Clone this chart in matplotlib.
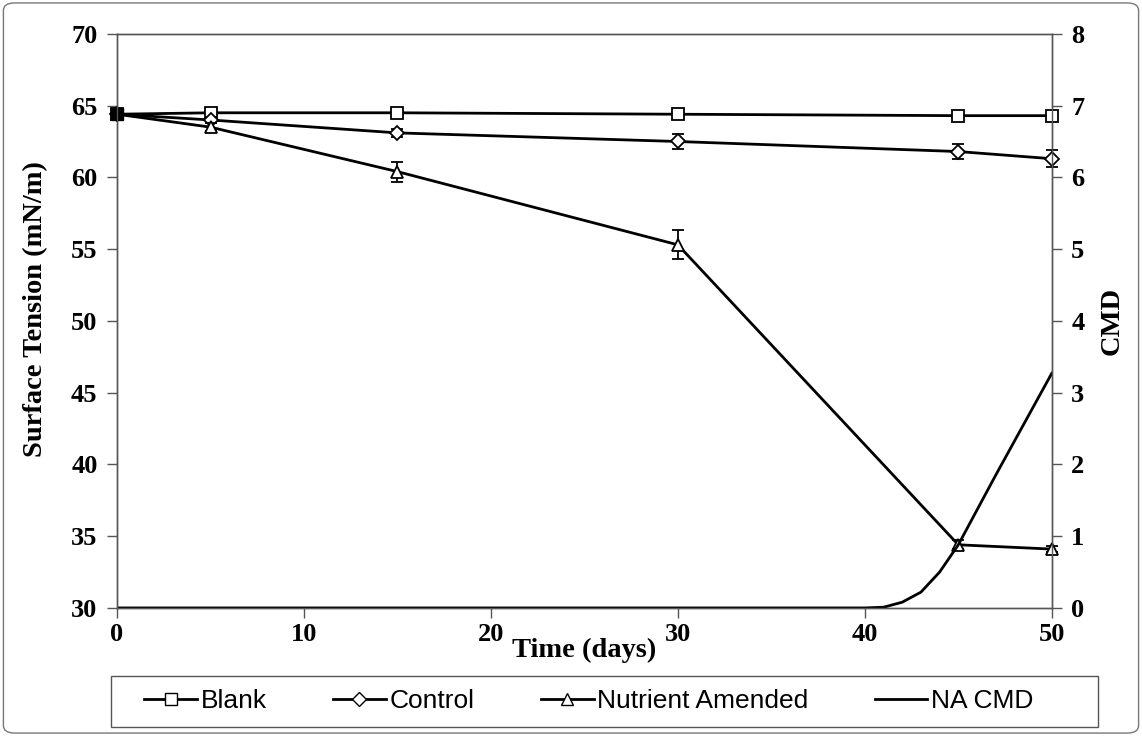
import numpy as np
import matplotlib.pyplot as plt
from matplotlib.patches import FancyBboxPatch, Rectangle
from matplotlib.lines import Line2D

days = [0, 5, 15, 30, 45, 50]

blank = [64.4, 64.5, 64.5, 64.4, 64.3, 64.3]
blank_err = [0.2, 0.2, 0.2, 0.2, 0.3, 0.2]

control = [64.4, 64.0, 63.1, 62.5, 61.8, 61.3]
control_err = [0.2, 0.2, 0.3, 0.5, 0.5, 0.6]

nutrient = [64.4, 63.5, 60.4, 55.3, 34.4, 34.1]
nutrient_err = [0.2, 0.3, 0.7, 1.0, 0.3, 0.2]

cmd_days = [0, 30, 40, 41, 42, 43, 44, 45, 47, 50]
na_cmd = [0, 0, 0, 0.01, 0.08, 0.22, 0.5, 0.88, 1.85, 3.27]

serif = 'Liberation Serif'
sans = 'Liberation Sans'
plt.rcParams['font.family'] = serif
plt.rcParams['font.weight'] = 'bold'

fig = plt.figure(figsize=(11.42, 7.36), dpi=100)
ax = fig.add_axes([0.1025, 0.174, 0.8185, 0.780])

lw = 2.0
kw = dict(color='black', lw=lw, markerfacecolor='white', markeredgecolor='black',
          markeredgewidth=1.3, ecolor='black', elinewidth=1.3, capsize=4, capthick=1.3)
series = [(blank, blank_err, 's', 8), (control, control_err, 'D', 7),
          (nutrient, nutrient_err, '^', 9)]
for i, (vals, errs, mk, ms) in enumerate(series):
    cont = ax.errorbar(days, vals, yerr=errs, marker=mk, markersize=ms, **kw, zorder=3 + i)
    parts = [cont.lines[0]] + list(cont.lines[1]) + list(cont.lines[2])
    for art in parts:
        art.set_clip_on(False)
# overlapping start points look solid
ax.plot([0], [64.4], marker='s', color='black', markersize=9, zorder=6, clip_on=False)

ax.set_xlim(0, 50)
ax.set_ylim(30, 70)
ax.set_xticks(range(0, 51, 10))
ax.set_yticks(range(30, 71, 5))

ax2 = ax.twinx()
ax2.plot(cmd_days, na_cmd, color='black', lw=lw)
ax2.set_ylim(0, 8)
ax2.set_yticks(range(0, 9))

for a in (ax, ax2):
    for sp in a.spines.values():
        sp.set_color('#555555')
        sp.set_linewidth(1.0)
    a.tick_params(direction='out', length=7, width=1, color='#555555', pad=7, labelsize=19)
ax.tick_params(axis='x', pad=4)

ax.set_xlabel('Time (days)', fontweight='bold', fontsize=20.5)
ax.xaxis.set_label_coords(0.5, -0.052)
ax.set_ylabel('Surface Tension (mN/m)', fontweight='bold', fontsize=20.5)
ax.yaxis.set_label_coords(-0.074, 0.52)
ax2.set_ylabel('CMD', fontweight='bold', fontsize=20.5)
ax2.yaxis.set_label_coords(1.051, 0.5)

handles = [
    Line2D([], [], color='black', lw=lw, marker='s', markersize=8, markerfacecolor='white'),
    Line2D([], [], color='black', lw=lw, marker='D', markersize=7, markerfacecolor='white'),
    Line2D([], [], color='black', lw=lw, marker='^', markersize=9, markerfacecolor='white'),
    Line2D([], [], color='black', lw=lw),
]
labels = ['Blank', 'Control', 'Nutrient Amended', 'NA CMD']
fig.legend(handles, labels, loc='center', bbox_to_anchor=(589 / 1142, 1 - 701 / 736),
           ncol=4, frameon=False, prop={'family': sans, 'weight': 'normal', 'size': 19},
           handlelength=2.0, handletextpad=0.15, columnspacing=2.5)
fig.patches.append(Rectangle((111 / 1142, 1 - 727 / 736), 987 / 1142, 51 / 736,
                             transform=fig.transFigure, fill=False, edgecolor='#555555', lw=1.0))

fig.patches.append(FancyBboxPatch((0.003, 0.004), 0.994, 0.992, boxstyle='round,pad=0,rounding_size=0.01',
                                  transform=fig.transFigure, fill=False, edgecolor='#777777', lw=1.0))

fig.savefig('out.png', dpi=100)
